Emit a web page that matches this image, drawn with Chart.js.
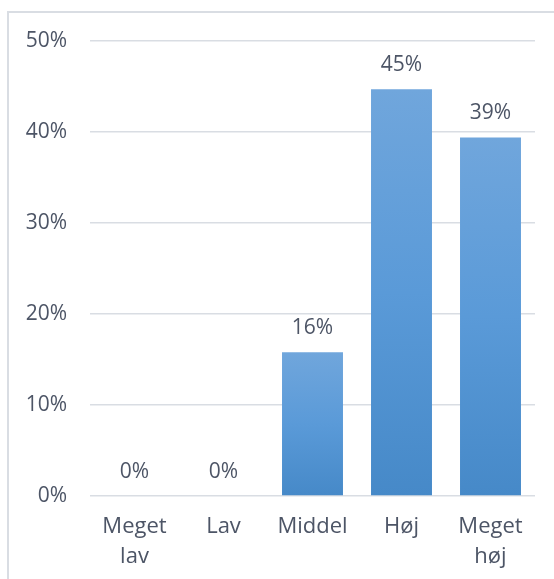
<!DOCTYPE html>
<html>
<head>
<meta charset="utf-8">
<script src="https://cdn.jsdelivr.net/npm/chart.js@4/dist/chart.umd.min.js"></script>
<style>
  html, body { margin: 0; padding: 0; background: #ffffff; }
  #wrap { position: relative; width: 554px; height: 579px; }
  canvas { display: block; }
</style>
</head>
<body>
<div id="wrap"><canvas id="c" width="554" height="579"></canvas></div>
<script>
const categories = [["Meget", "lav"], "Lav", "Middel", "Høj", ["Meget", "høj"]];
const values = [0, 0, 15.8, 44.7, 39.4];
const valueLabels = ["0%", "0%", "16%", "45%", "39%"];
const yTicks = [0, 10, 20, 30, 40, 50];

const textColor = '#4d5566';
const gridColor = '#d9dde3';

const framePlugin = {
  id: 'frame',
  beforeDraw(chart) {
    const ctx = chart.ctx;
    ctx.save();
    ctx.strokeStyle = gridColor;
    ctx.lineWidth = 2;
    ctx.beginPath();
    ctx.moveTo(8, 600);
    ctx.lineTo(8, 12);
    ctx.lineTo(600, 12);
    ctx.stroke();
    ctx.restore();
  }
};

const labelPlugin = {
  id: 'valLabels',
  afterDatasetsDraw(chart) {
    const ctx = chart.ctx;
    const meta = chart.getDatasetMeta(0);
    ctx.save();
    ctx.font = '21px "Open Sans"';
    ctx.fillStyle = textColor;
    ctx.textAlign = 'center';
    ctx.textBaseline = 'alphabetic';
    meta.data.forEach((bar, i) => {
      ctx.fillText(valueLabels[i], bar.x, bar.y - 18);
    });
    ctx.restore();
  }
};

new Chart(document.getElementById('c'), {
  type: 'bar',
  data: {
    labels: categories,
    datasets: [{
      data: values,
      backgroundColor(context) {
        const chart = context.chart;
        if (!chart.chartArea || context.dataIndex === undefined) return '#5b9bd5';
        const ys = chart.scales.y;
        const top = ys.getPixelForValue(values[context.dataIndex]);
        const base = ys.getPixelForValue(0);
        if (!(base - top > 1)) return '#5b9bd5';
        const g = chart.ctx.createLinearGradient(0, top, 0, base);
        g.addColorStop(0, '#70a6dc');
        g.addColorStop(0.5, '#5a9ad8');
        g.addColorStop(1, '#4689c8');
        return g;
      },
      borderWidth: 0,
      categoryPercentage: 1,
      barPercentage: 0.685
    }]
  },
  options: {
    responsive: false,
    animation: false,
    layout: { padding: { left: 0, right: 19, top: 41, bottom: 0 } },
    plugins: { legend: { display: false }, tooltip: { enabled: false }, title: { display: false } },
    scales: {
      x: {
        grid: { display: false, drawTicks: false },
        border: { display: false },
        ticks: { color: textColor, font: { family: 'Open Sans', size: 22, lineHeight: 30 / 22 }, padding: 16, maxRotation: 0, autoSkip: false },
        afterFit(scale) { scale.height = 83; }
      },
      y: {
        min: 0, max: 50,
        afterBuildTicks(scale) { scale.ticks = yTicks.map(v => ({ value: v })); },
        grid: { color: gridColor, lineWidth: 1.5, drawTicks: false },
        border: { display: false },
        ticks: { color: textColor, font: { family: 'Open Sans', size: 21 }, padding: 23, callback: v => v + '%' },
        afterFit(scale) { scale.width = 90; }
      }
    }
  },
  plugins: [framePlugin, labelPlugin]
});
</script>
</body>
</html>
